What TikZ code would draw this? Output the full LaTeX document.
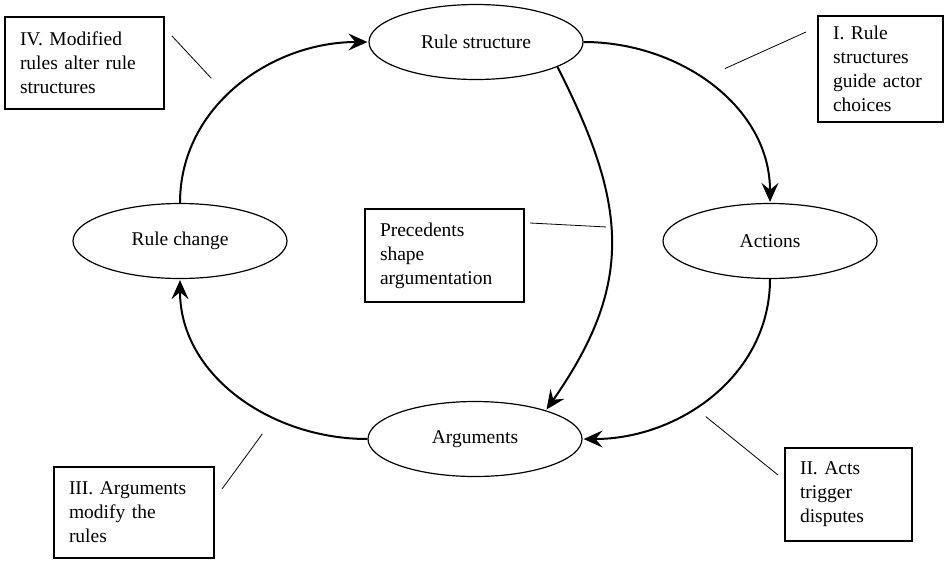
\documentclass[tikz,border=0pt]{standalone}
\usepackage{fontspec}
\setmainfont{Liberation Serif}
\usetikzlibrary{arrows.meta}
\usetikzlibrary{shapes.geometric}

\begin{document}
\begin{tikzpicture}[x=1pt,y=-1pt,>={Stealth[length=19pt,width=17pt,inset=7pt]},
                    shorten >=1pt,
                    cycle node/.style={ellipse,draw,line width=1.2pt,minimum width=214pt,
                      minimum height=75pt,font=\fontsize{19.5}{24}\selectfont},
                    note node/.style={rectangle,draw,line width=1.3pt,align=left,
                      inner xsep=15pt,font=\fontsize{19.5}{24}\selectfont},
                    flow/.style={->,line width=2pt},
                    pointer/.style={line width=0.8pt}]
      \useasboundingbox (0,0) rectangle (944,560);

      % the cycle
      \node[cycle node] (rs) at (476,42) {Rule structure};
      \node[cycle node] (act) at (770,241) {Actions};
      \node[cycle node] (arg) at (475,439) {Arguments};
      \node[cycle node] (rc) at (180,241) {Rule change};

      \path[flow]
	(rs.east) edge [out=0,in=90] (act.north)
	(rs.-17) edge [out=-63,in=55,looseness=1.15] (arg.22)
	(act.south) edge [out=-90,in=0] (arg.east)
	(arg.west) edge [out=180,in=-90] (rc.south)
	(rc.north) edge [out=90,in=180] (rs.west);

      % the notes
      \node[note node, text width=129pt, minimum height=92pt] (iv) at (84.5,63)
        {IV. Modified\\rules alter rule\\structures};
      \node[note node, text width=95pt, minimum height=106pt] (i) at (880.5,69)
        {I. Rule\\structures\\guide actor\\choices};
      \node[note node, text width=129pt, minimum height=93pt] (prec) at (444.5,255.5)
        {Precedents\\shape\\argumentation};
      \node[note node, text width=130pt, minimum height=91pt] (iii) at (134,512.5)
        {III. Arguments\\modify the\\rules};
      \node[note node, text width=97pt, minimum height=93pt] (ii) at (848.5,494.5)
        {II. Acts\\trigger\\disputes};

      \coordinate (iv a) at (172,36);   \coordinate (iv b) at (212,79);
      \coordinate (i a) at (806,32);    \coordinate (i b) at (724,69);
      \coordinate (prec a) at (530,223); \coordinate (prec b) at (607,227);
      \coordinate (iii a) at (222,489); \coordinate (iii b) at (263,433);
      \coordinate (ii a) at (778,475);  \coordinate (ii b) at (705,416);

      \path[pointer]
	(iv a) edge (iv b)
	(i a) edge (i b)
	(prec a) edge (prec b)
	(iii a) edge (iii b)
	(ii a) edge (ii b);
\end{tikzpicture}
\end{document}
